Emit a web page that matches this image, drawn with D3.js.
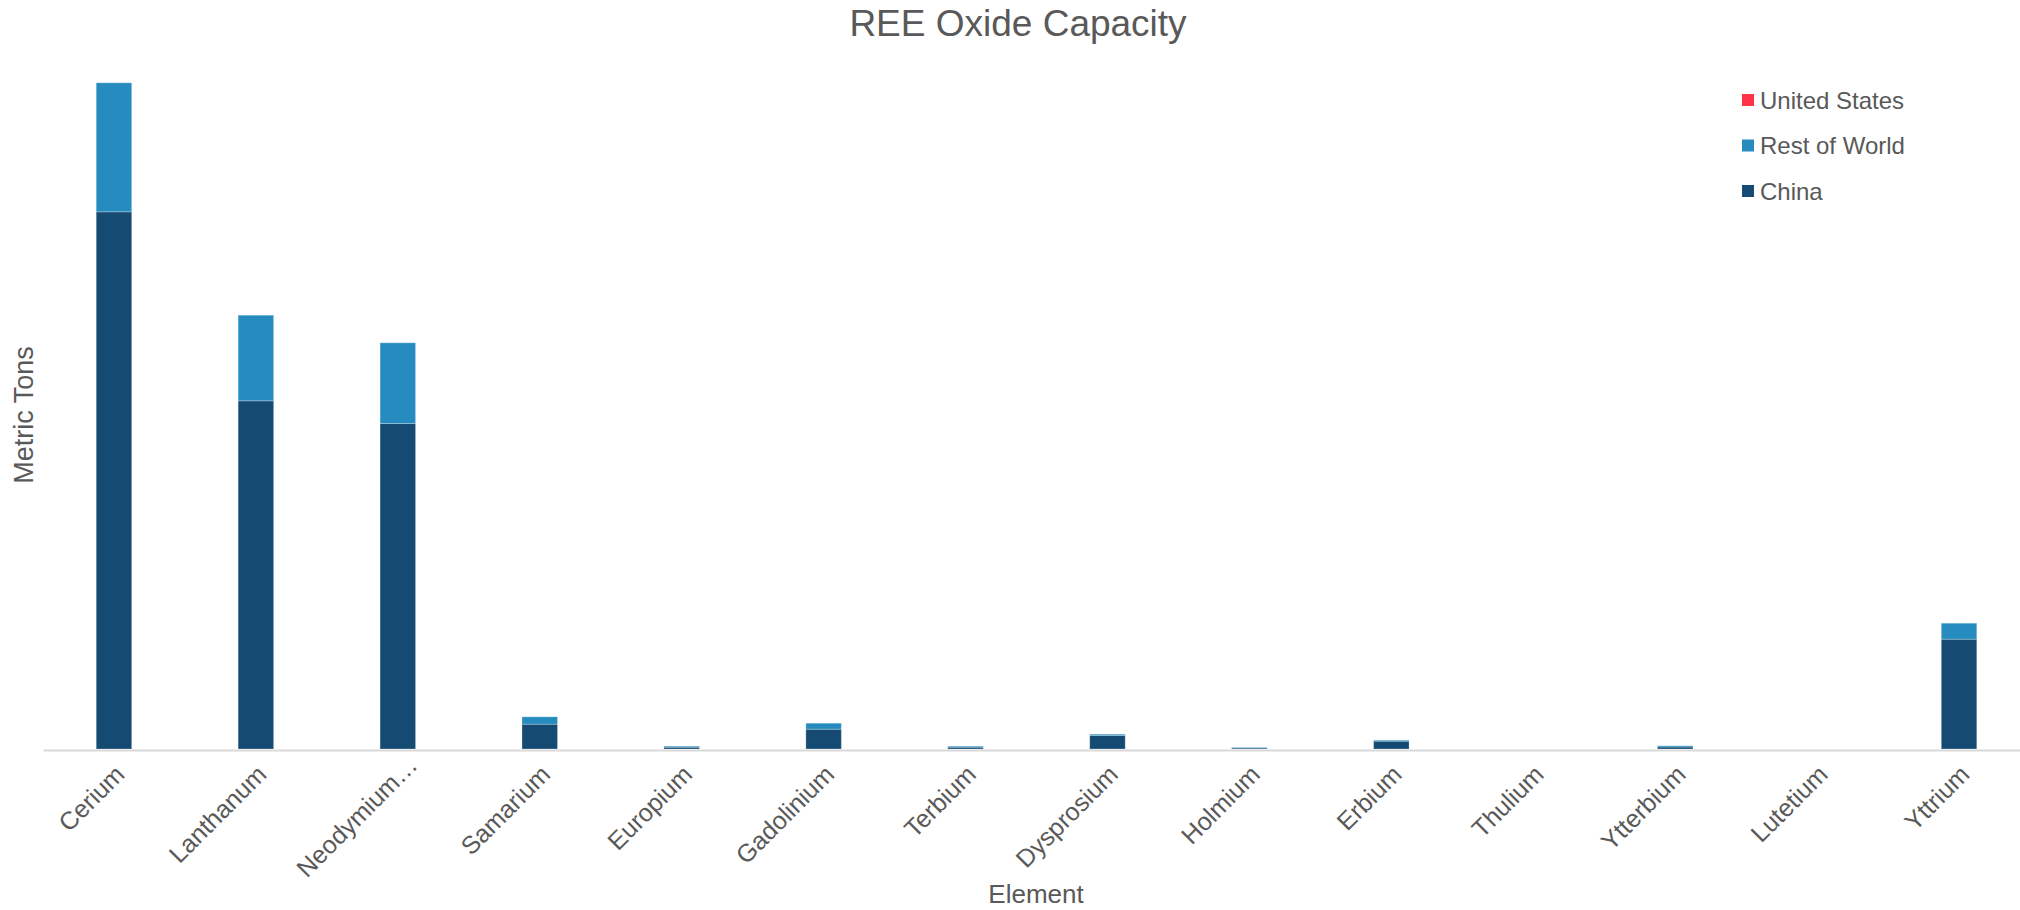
<!DOCTYPE html>
<html>
<head>
<meta charset="utf-8">
<script src="https://cdn.jsdelivr.net/npm/d3@7/dist/d3.min.js"></script>
<style>
  html, body { margin: 0; padding: 0; background: #ffffff; }
  svg { display: block; font-family: "Liberation Sans", Arial, sans-serif; }
</style>
</head>
<body>
<svg id="chart" width="2020" height="910"></svg>
<script>
// ---- Data (metric tons) ----
const categories = ["Cerium", "Lanthanum", "Neodymium/Praseodymium", "Samarium", "Europium",
  "Gadolinium", "Terbium", "Dysprosium", "Holmium", "Erbium", "Thulium", "Ytterbium",
  "Lutetium", "Yttrium"];
const tickLabels = ["Cerium", "Lanthanum", "Neodymium\u2026", "Samarium", "Europium",
  "Gadolinium", "Terbium", "Dysprosium", "Holmium", "Erbium", "Thulium", "Ytterbium",
  "Lutetium", "Yttrium"];
const china       = [53720, 34820, 32550, 2480, 180, 1980, 180, 1350, 100, 780, 0, 200, 0, 10980];
const restOfWorld = [12900, 8560, 8070, 740, 100, 600, 100, 130, 50, 100, 0, 120, 0, 1600];
const unitedStates = [0, 0, 0, 0, 0, 0, 0, 0, 0, 0, 0, 0, 0, 0];
const seriesNames = ["China", "Rest of World", "United States"];
const legendOrder = ["United States", "Rest of World", "China"];
const colors = { "China": "#154b73", "Rest of World": "#268cbf", "United States": "#ff3347" };

// ---- Build table ----
const table = categories.map((c, i) => ({
  category: c,
  "China": china[i],
  "Rest of World": restOfWorld[i],
  "United States": unitedStates[i]
}));
const stacked = d3.stack().keys(seriesNames)(table);

const svg = d3.select("#chart");
const textColor = "#595959";

const x = d3.scaleBand()
  .domain(categories)
  .range([43, 2030])
  .paddingInner(0.75)
  .paddingOuter(0.375);

const y = d3.scaleLinear()
  .domain([0, 66700])
  .range([749, 82]);

// ---- Bars ----
const g = svg.append("g");
g.selectAll("g.series")
  .data(stacked)
  .join("g")
  .attr("class", "series")
  .attr("fill", d => colors[d.key])
  .selectAll("rect")
  .data(d => d.filter(s => s[1] - s[0] > 0))
  .join("rect")
  .attr("x", d => x(d.data.category))
  .attr("width", x.bandwidth())
  .attr("y", d => y(d[1]))
  .attr("height", d => y(d[0]) - y(d[1]))
  .attr("stroke", "#ffffff")
  .attr("stroke-opacity", 0.25)
  .attr("stroke-width", 1);

// ---- X axis ----
const labelMap = new Map(categories.map((c, i) => [c, tickLabels[i]]));
const xAxis = svg.append("g")
  .attr("transform", "translate(0,750)")
  .call(d3.axisBottom(x).tickSize(0).tickSizeOuter(0).tickFormat(c => labelMap.get(c)));
xAxis.select(".domain").attr("stroke", "#d9d9d9").attr("stroke-width", 2);
xAxis.selectAll(".tick text")
  .attr("fill", textColor)
  .attr("font-size", 25)
  .attr("text-anchor", "end")
  .attr("dy", 0)
  .attr("y", 0)
  .attr("x", c => labelMap.get(c).endsWith("\u2026") ? 13 : 0)
  .attr("transform", "translate(12,26) rotate(-45)");

// ---- Titles ----
svg.append("text")
  .attr("x", 1018)
  .attr("y", 36)
  .attr("text-anchor", "middle")
  .attr("fill", textColor)
  .attr("font-size", 37)
  .text("REE Oxide Capacity");

svg.append("text")
  .attr("x", 1036)
  .attr("y", 903)
  .attr("text-anchor", "middle")
  .attr("fill", textColor)
  .attr("font-size", 26)
  .text("Element");

svg.append("text")
  .attr("transform", "translate(33,415) rotate(-90)")
  .attr("text-anchor", "middle")
  .attr("fill", textColor)
  .attr("font-size", 27)
  .text("Metric Tons");

// ---- Legend ----
const legend = svg.append("g").attr("transform", "translate(1742,94)");
const items = legend.selectAll("g")
  .data(legendOrder)
  .join("g")
  .attr("transform", (d, i) => `translate(0,${i * 45.5})`);
items.append("rect")
  .attr("width", 12)
  .attr("height", 12)
  .attr("fill", d => colors[d]);
items.append("text")
  .attr("x", 18)
  .attr("y", 14.5)
  .attr("fill", textColor)
  .attr("font-size", 24)
  .text(d => d);
</script>
</body>
</html>
